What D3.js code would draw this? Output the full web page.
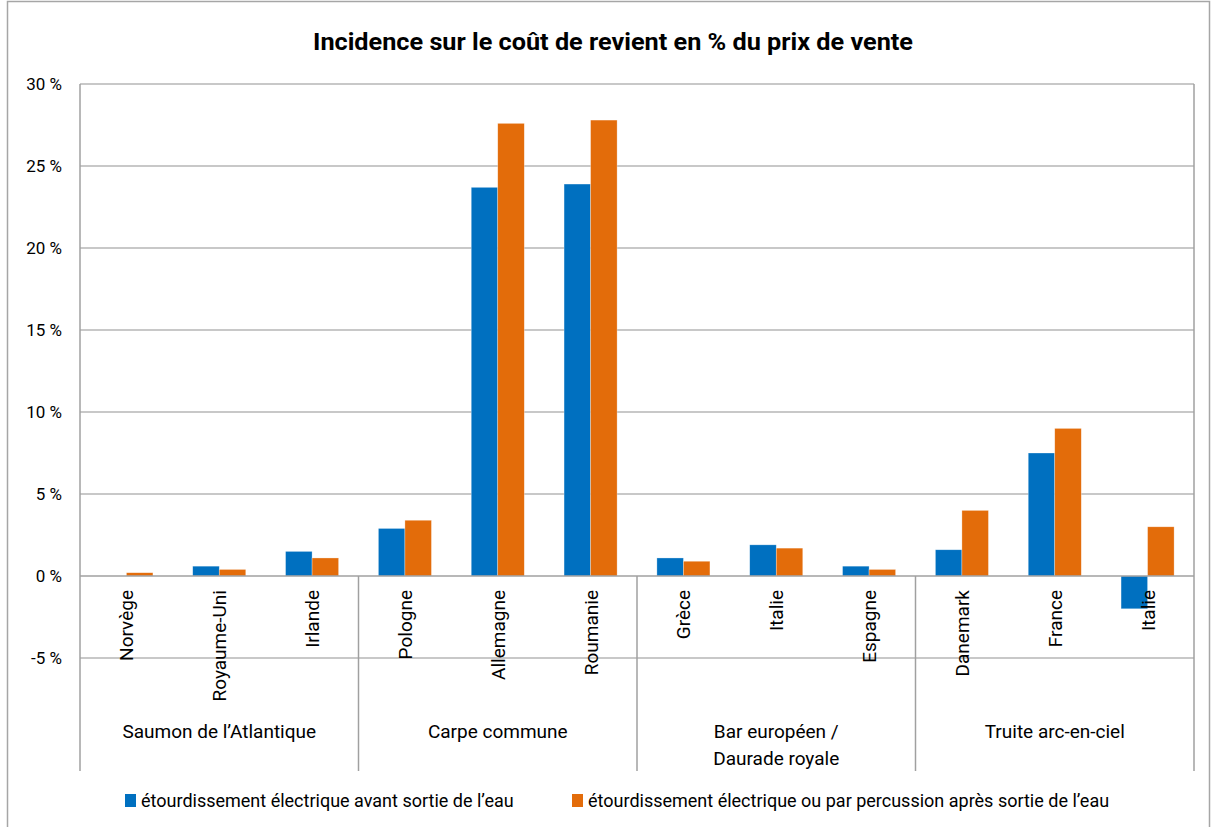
<!DOCTYPE html>
<html>
<head>
<meta charset="utf-8">
<script src="https://cdn.jsdelivr.net/npm/d3@7"></script>
<style>
  body { margin: 0; background: #fff; }
  svg { display: block; font-family: Roboto, "Open Sans", sans-serif; }
</style>
</head>
<body>
<script>
// data
var groups = ["Saumon de l’Atlantique", "Carpe commune", "Bar européen /|Daurade royale", "Truite arc-en-ciel"];
var countries = ["Norvège", "Royaume-Uni", "Irlande", "Pologne", "Allemagne", "Roumanie",
                 "Grèce", "Italie", "Espagne", "Danemark", "France", "Italie"];
var groupOf = [0, 0, 0, 1, 1, 1, 2, 2, 2, 3, 3, 3];
var seriesNames = ["étourdissement électrique avant sortie de l’eau",
                   "étourdissement électrique ou par percussion après sortie de l’eau"];
var avant = [0, 0.6, 1.5, 2.9, 23.7, 23.9, 1.1, 1.9, 0.6, 1.6, 7.5, -2.0];
var apres = [0.2, 0.4, 1.1, 3.4, 27.6, 27.8, 0.9, 1.7, 0.4, 4.0, 9.0, 3.0];
var yTicks = [-5, 0, 5, 10, 15, 20, 25, 30];
var colors = ["#0070C0", "#E36C0A"];

var svgWidth = 1212, svgHeight = 827;
var plotLeft = 80, plotRight = 1194, plotTop = 84, yBottom = 658, catBottom = 771;

var svg = d3.select("body").append("svg")
    .attr("width", svgWidth)
    .attr("height", svgHeight);

// outer frame
svg.append("rect")
    .attr("x", 7.5).attr("y", 1.5)
    .attr("width", 1202).attr("height", 850)
    .attr("fill", "none").attr("stroke", "#a6a6a6").attr("stroke-width", 1.5);

svg.append("text")
    .attr("x", 613).attr("y", 50)
    .attr("text-anchor", "middle")
    .attr("font-size", 24).attr("font-weight", "bold")
    .attr("textLength", 600).attr("lengthAdjust", "spacingAndGlyphs")
    .text("Incidence sur le coût de revient en % du prix de vente");

var keys = countries.map((c, i) => i);
var xScale = d3.scaleBand().domain(keys).range([plotLeft, plotRight]).paddingInner(0).paddingOuter(0);
var inner = d3.scaleBand().domain([0, 1]).range([0, xScale.bandwidth()]).paddingInner(0).paddingOuter(0.75);
var yScale = d3.scaleLinear().domain([-5, 30]).range([yBottom, plotTop]);

// gridlines
svg.append("g").selectAll("line")
    .data(yTicks.filter(d => d !== 0))
    .enter().append("line")
    .attr("x1", plotLeft).attr("x2", plotRight)
    .attr("y1", d => yScale(d)).attr("y2", d => yScale(d))
    .attr("stroke", "#c8c8c8").attr("stroke-width", 2);

// y tick labels
svg.append("g").selectAll("text")
    .data(yTicks)
    .enter().append("text")
    .attr("x", 62).attr("y", d => yScale(d) + 6)
    .attr("text-anchor", "end")
    .attr("font-size", 17)
    .text(d => d + " %");

// plot right edge, left axis, group separators
var sepX = [plotLeft].concat(groups.map((g, gi) => {
    var last = groupOf.lastIndexOf(gi);
    return xScale(last) + xScale.bandwidth();
}));
svg.append("g").selectAll("line")
    .data(sepX)
    .enter().append("line")
    .attr("x1", d => d).attr("x2", d => d)
    .attr("y1", (d, i) => (i === 0 || i === sepX.length - 1) ? plotTop : yScale(0))
    .attr("y2", catBottom)
    .attr("stroke", "#a0a0a0").attr("stroke-width", 1.5);

// bars
var series = [avant, apres];
series.forEach(function(vals, s) {
    svg.append("g").selectAll("rect")
        .data(vals)
        .enter().append("rect")
        .attr("x", (d, i) => xScale(i) + inner(s))
        .attr("width", inner.bandwidth())
        .attr("y", d => yScale(Math.max(0, d)))
        .attr("height", d => Math.abs(yScale(d) - yScale(0)))
        .attr("fill", colors[s])
        .attr("stroke", "#ffffff").attr("stroke-opacity", 0.5).attr("stroke-width", 0.6);
});

// zero line
svg.append("line")
    .attr("x1", plotLeft).attr("x2", plotRight)
    .attr("y1", yScale(0)).attr("y2", yScale(0))
    .attr("stroke", "#a0a0a0").attr("stroke-width", 1.5);

// country labels
svg.append("g").selectAll("text")
    .data(countries)
    .enter().append("text")
    .attr("transform", (d, i) => `translate(${xScale(i) + xScale.bandwidth() / 2 + 7}, 590) rotate(-90)`)
    .attr("text-anchor", "end")
    .attr("font-size", 19)
    .text(d => d);

// group labels
groups.forEach(function(g, gi) {
    var first = groupOf.indexOf(gi), last = groupOf.lastIndexOf(gi);
    var cx = (xScale(first) + xScale(last) + xScale.bandwidth()) / 2;
    var lines = g.split("|");
    var t = svg.append("text")
        .attr("x", cx).attr("y", 738)
        .attr("text-anchor", "middle")
        .attr("font-size", 19);
    lines.forEach((ln, li) => t.append("tspan").attr("x", cx).attr("dy", li ? 27 : 0).text(ln));
});

// legend
var legendX = [125, 572];
seriesNames.forEach(function(name, s) {
    svg.append("rect")
        .attr("x", legendX[s]).attr("y", 794)
        .attr("width", 11).attr("height", 13)
        .attr("fill", colors[s]);
    svg.append("text")
        .attr("x", legendX[s] + 16).attr("y", 807)
        .attr("font-size", 18)
        .text(name);
});
</script>
</body>
</html>
